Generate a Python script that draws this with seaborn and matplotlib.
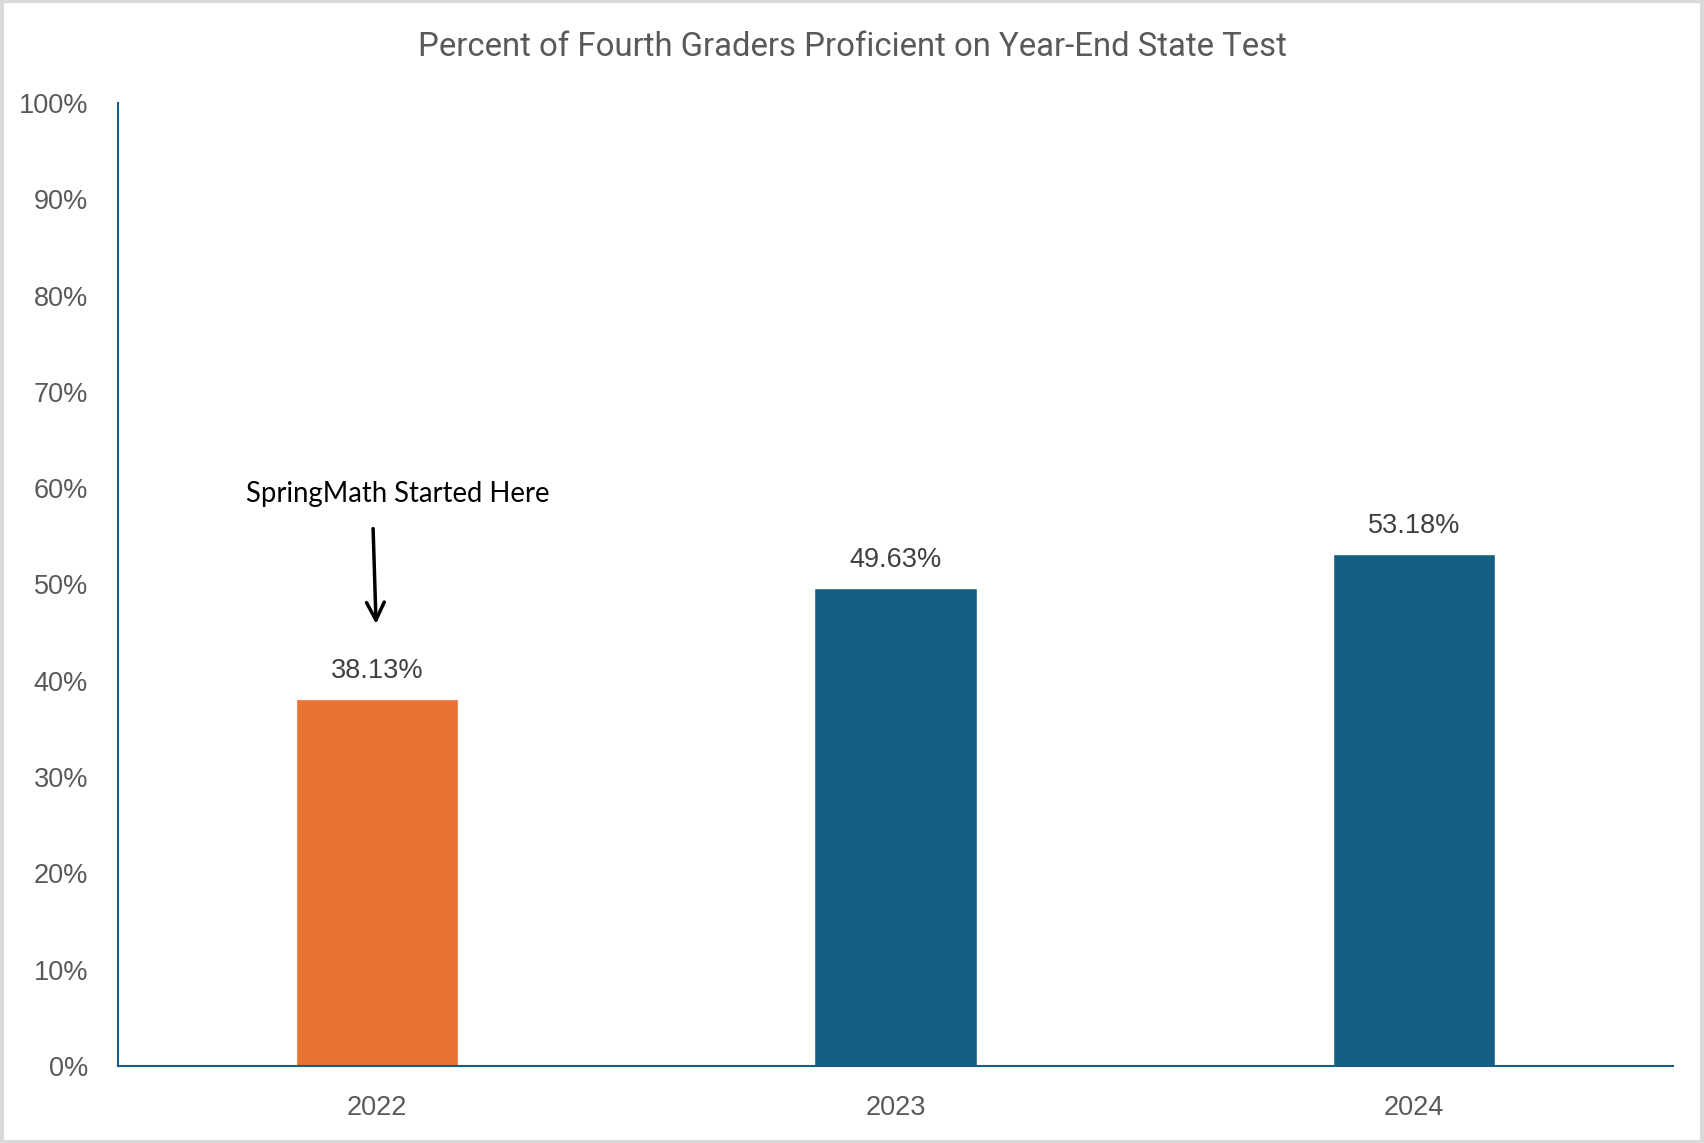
"""
bar chart of fourth grade proficiency on the year-end state test
"""

import matplotlib.pyplot as plt
import pandas as pd
import seaborn as sns

# data
years = ["2022", "2023", "2024"]
proficient = [38.13, 49.63, 53.18]
bar_colors = ["#E97132", "#156082", "#156082"]
y_ticks = [0, 10, 20, 30, 40, 50, 60, 70, 80, 90, 100]

df = pd.DataFrame({"Year": years, "Proficient": proficient})

sns.set_style("white")
plt.rcParams["font.family"] = ["Liberation Sans", "DejaVu Sans"]

fig = plt.figure(figsize=(17.04, 11.43), dpi=100)
ax = fig.add_axes([0.0692, 0.0674, 0.9126, 0.8425])

sns.barplot(
    data=df,
    x="Year",
    y="Proficient",
    hue="Year",
    palette=dict(zip(years, bar_colors)),
    saturation=1,
    width=0.313,
    legend=False,
    ax=ax,
)

# value labels above the bars
for container in ax.containers:
    ax.bar_label(
        container,
        labels=[f"{v:.2f}%" for v in container.datavalues],
        padding=11,
        fontsize=19.5,
        color="#404040",
    )

ax.set_xlim(-0.5, 2.5)
ax.set_ylim(0, 100)
ax.set_yticks(y_ticks)
ax.set_yticklabels([f"{t}%" for t in y_ticks])
ax.tick_params(axis="y", length=0, pad=21.5, labelsize=19.5, labelcolor="#595959")
ax.tick_params(axis="x", length=0, pad=21, labelsize=19.5, labelcolor="#595959")
ax.set_xlabel("")
ax.set_ylabel("")

for side in ["top", "right"]:
    ax.spines[side].set_visible(False)
for side in ["left", "bottom"]:
    ax.spines[side].set_color("#156082")
    ax.spines[side].set_linewidth(1.5)

# annotation for the first year
ax.annotate(
    "",
    xy=(-0.002, 45.9),
    xytext=(-0.0077, 55.8),
    arrowprops=dict(
        arrowstyle="->", color="black", lw=2.5, mutation_scale=32,
        shrinkA=0, shrinkB=0,
    ),
)
ax.text(
    0.04,
    59.4,
    "SpringMath Started Here",
    ha="center",
    va="center",
    fontsize=19.8,
    color="black",
    family=["Lato", "DejaVu Sans"],
)

fig.suptitle(
    "Percent of Fourth Graders Proficient on Year-End State Test",
    y=0.9725,
    fontsize=23.7,
    color="#595959",
    family=["Roboto", "DejaVu Sans"],
)

# thin grey frame around the picture
fig.patches.append(
    plt.Rectangle(
        (0.001, 0.001), 0.998, 0.998,
        transform=fig.transFigure, fill=False, edgecolor="#D9D9D9", lw=3,
    )
)

fig.savefig("out.png", dpi=100)
